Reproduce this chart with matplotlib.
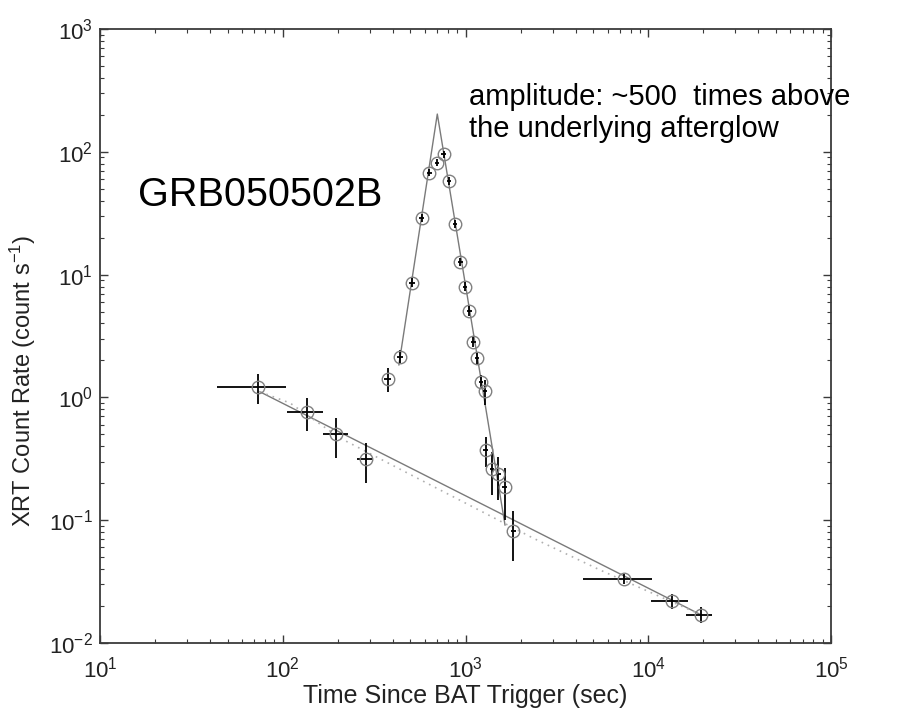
import matplotlib
matplotlib.use("Agg")
import matplotlib.pyplot as plt
import numpy as np

plt.rcParams['font.family'] = ['Liberation Sans', 'DejaVu Sans']
plt.rcParams['mathtext.fontset'] = 'custom'
plt.rcParams['mathtext.rm'] = 'Liberation Sans'
plt.rcParams['mathtext.it'] = 'Liberation Sans'

# ---- afterglow (early) points: x, y, x-range, y-range ----
ag_x    = [73.5, 136.2, 195.6, 285.4]
ag_y    = [1.22, 0.756, 0.50, 0.313]
ag_xlo  = [43.5, 105.1, 165.4, 254.0]
ag_xhi  = [103.8, 166.7, 228.4, 313.0]
ag_ylo  = [0.884, 0.532, 0.323, 0.20]
ag_yhi  = [1.55, 0.983, 0.676, 0.428]

# ---- flare points ----
fl_x   = [375.3, 438, 511.5, 576, 633.9, 698.3, 759.8, 812.3, 876, 936.7,
          993.8, 1049, 1103, 1156, 1216, 1278, 1290, 1396, 1512, 1639, 1826]
fl_y   = [1.404, 2.145, 8.59, 29.1, 67.6, 81.5, 95.4, 58.2, 25.7, 12.66,
          7.97, 5.05, 2.84, 2.09, 1.34, 1.13, 0.373, 0.26, 0.2365, 0.1875, 0.0821]
fl_ylo = [1.113, 1.90, 7.9, 27.0, 63.0, 76.0, 89.0, 54.0, 23.8, 11.7,
          7.3, 4.6, 2.55, 1.85, 1.17, 0.867, 0.27, 0.16, 0.146, 0.1004, 0.0465]
fl_yhi = [1.735, 2.42, 9.3, 31.2, 72.0, 87.0, 101.0, 62.5, 27.6, 13.6,
          8.7, 5.5, 3.15, 2.35, 1.52, 1.387, 0.479, 0.361, 0.327, 0.266, 0.1188]
fl_xfrac = [0.04, 0.04, 0.035, 0.03, 0.03, 0.03, 0.03, 0.03, 0.03, 0.03,
            0.03, 0.03, 0.03, 0.03, 0.03, 0.03, 0.03, 0.03, 0.03, 0.03, 0.03]

# ---- late afterglow points ----
lt_x   = [7396, 13440, 19360]
lt_y   = [0.0334, 0.02186, 0.0170]
lt_xlo = [4378, 10310, 16090]
lt_xhi = [10530, 16440, 22410]
lt_ylo = [0.0305, 0.01892, 0.01446]
lt_yhi = [0.0366, 0.02506, 0.01975]

# ---- model curves ----
flare_line_x = [432, 701, 1645]
flare_line_y = [1.84, 203, 0.0914]
pl_line_x = [75.1, 19360]
pl_line_y = [1.11, 0.0170]
dot_line_x = [75.1, 109.6, 205.7, 639, 2350, 5445, 19360]
dot_line_y = [1.11, 0.900, 0.467, 0.1945, 0.0713, 0.0393, 0.0170]

fig = plt.figure(figsize=(8.99, 7.13), dpi=100)
ax = fig.add_axes([0.1112, 0.0982, 0.8132, 0.8611])
ax.set_xscale('log')
ax.set_yscale('log')
ax.set_xlim(10, 1e5)
ax.set_ylim(1e-2, 1e3)

ax.plot(pl_line_x, pl_line_y, color='#7a7a7a', lw=1.0, zorder=2)
ax.plot(dot_line_x, dot_line_y, color='#b0b0b0', lw=1.2, ls=(0, (1, 3)), zorder=2)
ax.plot(flare_line_x, flare_line_y, color='#7a7a7a', lw=1.0, zorder=2)

def draw(xs, ys, xlo, xhi, ylo, yhi):
    xs = np.array(xs); ys = np.array(ys)
    xerr = [xs - np.array(xlo), np.array(xhi) - xs]
    yerr = [ys - np.array(ylo), np.array(yhi) - ys]
    ax.errorbar(xs, ys, xerr=xerr, yerr=yerr, fmt='none', ecolor='black',
                elinewidth=1.3, capsize=0, zorder=3)
    ax.plot(xs, ys, 'o', mfc='none', mec='#808080', mew=1.0, ms=9, zorder=4)

draw(ag_x, ag_y, ag_xlo, ag_xhi, ag_ylo, ag_yhi)
fx = np.array(fl_x); ff = np.array(fl_xfrac)
draw(fl_x, fl_y, fx * (1 - ff), fx * (1 + ff), fl_ylo, fl_yhi)
draw(lt_x, lt_y, lt_xlo, lt_xhi, lt_ylo, lt_yhi)

for s in ax.spines.values():
    s.set_color('#3a3a3a')
    s.set_linewidth(1.3)
ax.tick_params(which='both', direction='in', top=True, right=True, colors='#3a3a3a',
               labelcolor='#222222')
ax.tick_params(which='major', length=6, width=1.0, labelsize=16, pad=10)
ax.tick_params(which='minor', length=3, width=0.8)
ax.tick_params(axis='y', which='major', pad=5)

ax.set_xlabel('Time Since BAT Trigger (sec)', fontsize=18, color='#222222', labelpad=1)
ax.set_ylabel('XRT Count Rate (count s$^{-1}$)', fontsize=17, color='#222222')
ax.yaxis.set_label_coords(-0.085, 0.427)

ax.text(0.052, 0.73, 'GRB050502B', transform=ax.transAxes, fontsize=28.5,
        color='black', va='center', ha='left')
ax.text(0.505, 0.863, 'amplitude: ~500  times above\nthe underlying afterglow',
        transform=ax.transAxes, fontsize=21, color='black', va='center', ha='left',
        linespacing=1.2)

fig.savefig('out.png', dpi=100)
